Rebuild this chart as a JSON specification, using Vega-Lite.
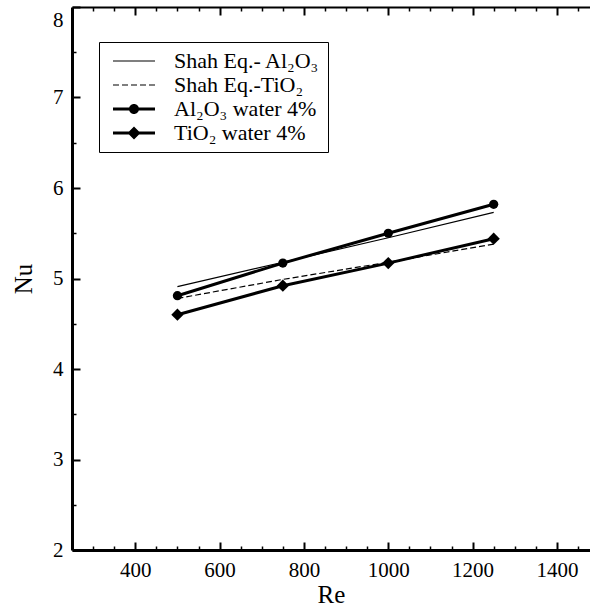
{
  "$schema": "https://vega.github.io/schema/vega-lite/v6.json",
  "width": 518,
  "height": 543,
  "autosize": {"type": "none"},
  "padding": {"left": 72, "top": 7, "right": 0, "bottom": 59},
  "background": "white",
  "config": {
    "view": {"stroke": null},
    "axis": {
      "grid": false,
      "labelFont": "Liberation Serif",
      "titleFont": "Liberation Serif",
      "labelFontSize": 21,
      "titleFontSize": 25,
      "titleFontWeight": "normal",
      "labelColor": "black",
      "titleColor": "black",
      "tickColor": "black",
      "domainColor": "black",
      "labelFlush": false,
      "labelOverlap": false
    },
    "legend": {
      "labelFont": "Liberation Serif",
      "labelFontSize": 22,
      "labelColor": "black",
      "symbolSize": 100,
      "symbolStrokeWidth": 0,
      "symbolOpacity": 1,
      "symbolFillColor": "black",
      "labelOffset": 45,
      "labelLimit": 400,
      "strokeColor": "black",
      "strokeWidth": 1,
      "fillColor": "white",
      "padding": 8,
      "rowPadding": 2
    }
  },
  "data": {
    "values": [
      {"series": "Shah Eq.- Al₂O₃", "Re": 500, "Nu": 4.91},
      {"series": "Shah Eq.- Al₂O₃", "Re": 750, "Nu": 5.18},
      {"series": "Shah Eq.- Al₂O₃", "Re": 1000, "Nu": 5.45},
      {"series": "Shah Eq.- Al₂O₃", "Re": 1250, "Nu": 5.73},
      {"series": "Shah Eq.-TiO₂", "Re": 500, "Nu": 4.78},
      {"series": "Shah Eq.-TiO₂", "Re": 750, "Nu": 4.99},
      {"series": "Shah Eq.-TiO₂", "Re": 1000, "Nu": 5.18},
      {"series": "Shah Eq.-TiO₂", "Re": 1250, "Nu": 5.38},
      {"series": "Al₂O₃ water 4%", "Re": 500, "Nu": 4.81},
      {"series": "Al₂O₃ water 4%", "Re": 750, "Nu": 5.17},
      {"series": "Al₂O₃ water 4%", "Re": 1000, "Nu": 5.5},
      {"series": "Al₂O₃ water 4%", "Re": 1250, "Nu": 5.82},
      {"series": "TiO₂ water 4%", "Re": 500, "Nu": 4.6},
      {"series": "TiO₂ water 4%", "Re": 750, "Nu": 4.92},
      {"series": "TiO₂ water 4%", "Re": 1000, "Nu": 5.17},
      {"series": "TiO₂ water 4%", "Re": 1250, "Nu": 5.44}
    ]
  },
  "layer": [
    {
      "transform": [{"filter": {"field": "series", "equal": "Shah Eq.- Al₂O₃"}}],
      "mark": {"type": "line", "color": "black", "strokeWidth": 1.2},
      "encoding": {
        "x": {
          "field": "Re", "type": "quantitative",
          "scale": {"domain": [250, 1478.4], "nice": false, "zero": false},
          "axis": {"orient": "bottom", "values": [400, 600, 800, 1000, 1200, 1400], "format": "d", "tickSize": -8, "tickWidth": 2, "tickColor": "#000000", "domainWidth": 3, "labelPadding": 17, "title": "Re", "titlePadding": 2}
        },
        "y": {
          "field": "Nu", "type": "quantitative",
          "scale": {"domain": [2, 8], "nice": false, "zero": false},
          "axis": {
            "orient": "left", "values": [2, 3, 4, 5, 6, 7, 8], "tickSize": -8, "tickWidth": 2, "tickColor": "#000000", "domainWidth": 3, "labelPadding": 17, "title": "Nu", "titlePadding": 16,
            "labelBaseline": {"condition": {"test": "datum.value == 8", "value": "top"}, "value": "middle"},
            "labelOffset": {"condition": {"test": "datum.value == 8", "value": 2}, "value": 0}
          }
        }
      }
    },
    {
      "transform": [{"filter": {"field": "series", "equal": "Shah Eq.-TiO₂"}}],
      "mark": {"type": "line", "color": "black", "strokeWidth": 1.2, "strokeDash": [6, 3]},
      "encoding": {
        "x": {
          "field": "Re", "type": "quantitative",
          "axis": {"orient": "bottom", "values": [300, 350, 450, 500, 550, 650, 700, 750, 850, 900, 950, 1050, 1100, 1150, 1250, 1300, 1350, 1450], "tickSize": -4, "tickWidth": 1.5, "tickColor": "#000000", "labels": false, "domain": false, "title": null}
        },
        "y": {
          "field": "Nu", "type": "quantitative",
          "axis": {"orient": "left", "values": [2.5, 3.5, 4.5, 5.5, 6.5, 7.5], "tickSize": -4, "tickWidth": 1.5, "tickColor": "#000000", "labels": false, "domain": false, "title": null}
        }
      }
    },
    {
      "transform": [{"filter": {"field": "series", "oneOf": ["Al₂O₃ water 4%", "TiO₂ water 4%"]}}],
      "mark": {"type": "line", "color": "black", "strokeWidth": 3},
      "encoding": {
        "x": {"field": "Re", "type": "quantitative", "axis": null},
        "y": {"field": "Nu", "type": "quantitative", "axis": null},
        "detail": {"field": "series", "type": "nominal"}
      }
    },
    {
      "transform": [{"filter": {"field": "series", "equal": "Al₂O₃ water 4%"}}],
      "mark": {"type": "point", "shape": "circle", "filled": true, "color": "black", "opacity": 1, "size": 85},
      "encoding": {
        "x": {
          "field": "Re", "type": "quantitative",
          "axis": {"orient": "top", "values": [400, 600, 800, 1000, 1200, 1400], "tickSize": -8, "tickWidth": 2, "tickColor": "#000000", "labels": false, "domain": true, "domainWidth": 2, "title": null}
        },
        "y": {"field": "Nu", "type": "quantitative", "axis": null}
      }
    },
    {
      "transform": [{"filter": {"field": "series", "equal": "TiO₂ water 4%"}}],
      "mark": {"type": "point", "shape": "diamond", "filled": true, "color": "black", "opacity": 1, "size": 150},
      "encoding": {
        "x": {
          "field": "Re", "type": "quantitative",
          "axis": {"orient": "top", "values": [300, 350, 450, 500, 550, 650, 700, 750, 850, 900, 950, 1050, 1100, 1150, 1250, 1300, 1350, 1450], "tickSize": -4, "tickWidth": 1.5, "tickColor": "#000000", "labels": false, "domain": false, "title": null}
        },
        "y": {"field": "Nu", "type": "quantitative", "axis": null}
      }
    },
    {
      "mark": {"type": "point", "filled": true, "color": "black", "opacity": 1, "size": 0},
      "encoding": {
        "x": {"field": "Re", "type": "quantitative", "axis": null},
        "y": {"field": "Nu", "type": "quantitative", "axis": null},
        "shape": {
          "field": "series", "type": "nominal",
          "scale": {
            "domain": ["Shah Eq.- Al₂O₃", "Shah Eq.-TiO₂", "Al₂O₃ water 4%", "TiO₂ water 4%"],
            "range": [
              "M-1 -0.11L7.4 -0.11L7.4 0.11L-1 0.11Z",
              "M-1 -0.11L0.2 -0.11L0.2 0.11L-1 0.11ZM0.8 -0.11L2 -0.11L2 0.11L0.8 0.11ZM2.6 -0.11L3.8 -0.11L3.8 0.11L2.6 0.11ZM4.4 -0.11L5.6 -0.11L5.6 0.11L4.4 0.11ZM6.2 -0.11L7.4 -0.11L7.4 0.11L6.2 0.11Z",
              "M-1 -0.28L7.4 -0.28L7.4 0.28L-1 0.28ZM2.2 0A1 1 0 1 1 4.2 0A1 1 0 1 1 2.2 0Z",
              "M-1 -0.28L7.4 -0.28L7.4 0.28L-1 0.28ZM3.2 -1.3L4.5 0L3.2 1.3L1.9 0Z"
            ]
          },
          "legend": {"orient": "none", "legendX": 27, "legendY": 35, "title": null}
        }
      }
    }
  ],
  "resolve": {"axis": {"x": "independent", "y": "independent"}}
}
